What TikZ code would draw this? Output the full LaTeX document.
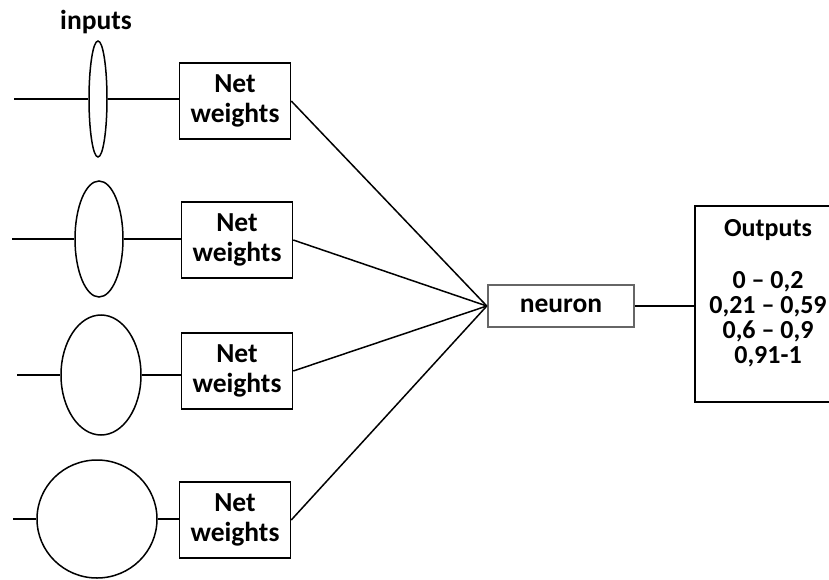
\documentclass[tikz,border=0pt]{standalone}
\usepackage{fontspec}
\setmainfont{Carlito}
\usetikzlibrary{shapes.geometric}

\begin{document}
\begin{tikzpicture}[x=1pt, y=-1pt, line width=1.5pt,
    font=\bfseries\fontsize{27.5}{30}\selectfont,
    weightbox/.style={draw, minimum width=111pt, minimum height=76pt, inner sep=0pt, align=center},
    inputnode/.style={draw, ellipse, inner sep=0pt}]

    \useasboundingbox (0,0) rectangle (829,580);
    \clip (0,0) rectangle (829,580);

    \node (inputs) at (96,22) {inputs};

    % input ellipses, growing from top to bottom
    \node[inputnode, minimum width=18pt, minimum height=116pt] (in1) at (98,99) {};
    \node[inputnode, minimum width=48pt, minimum height=116pt] (in2) at (99,239) {};
    \node[inputnode, minimum width=80pt, minimum height=120pt] (in3) at (101,375) {};
    \node[inputnode, minimum width=120pt, minimum height=118pt] (in4) at (97,519) {};

    \coordinate (s1) at (14,99);
    \coordinate (s2) at (12,239);
    \coordinate (s3) at (17,375);
    \coordinate (s4) at (13,519);

    \node[weightbox] (w1) at (235,101) {Net\\weights};
    \node[weightbox] (w2) at (237,240) {Net\\weights};
    \node[weightbox] (w3) at (237,371) {Net\\weights};
    \node[weightbox] (w4) at (235,520) {Net\\weights};

    \node[draw=black!60, line width=2.4pt, minimum width=146pt, minimum height=42pt] (neuron) at (561,306) {neuron};

    \node[draw, minimum width=146pt, minimum height=196pt] (outputs) at (768,304) {};
    \node[align=center, font=\bfseries\fontsize{26}{25}\selectfont] (ranges) at (768,293)
        {Outputs\\[27pt]0 – 0,2\\0,21 – 0,59\\0,6 – 0,9\\0,91-1};

    \foreach \i in {1,...,4} {
        \draw (s\i) -- (in\i.west);
        \draw (in\i.east) -- (in\i.east -| w\i.west);
        \draw (w\i.east) -- (neuron.west);
    }
    \draw (neuron.east) -- (neuron.east -| outputs.west);

\end{tikzpicture}
\end{document}
